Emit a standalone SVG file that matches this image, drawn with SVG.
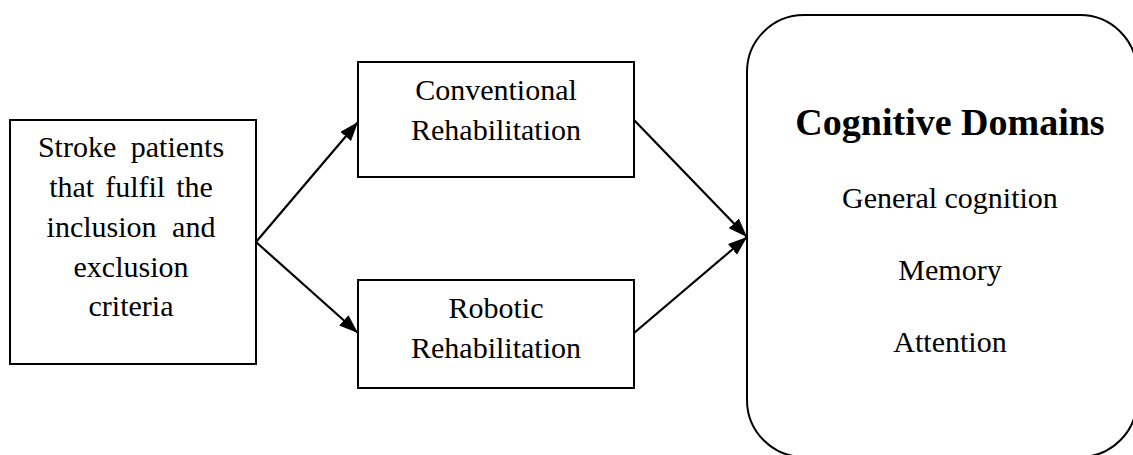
<svg xmlns="http://www.w3.org/2000/svg" width="1133" height="455" viewBox="0 0 1133 455">
<style>
.box{fill:#fff;stroke:#000;stroke-width:2}
.t{font-family:"Liberation Serif","Times New Roman",serif;font-size:30px;fill:#000;text-anchor:middle}
.b{font-weight:bold;font-size:38px}
.c{fill:none;stroke:#000;stroke-width:2.2}
</style>
<defs>
<marker id="ah" markerUnits="userSpaceOnUse" markerWidth="20" markerHeight="16" refX="19" refY="7" orient="auto">
<path d="M0,0 L19,7 L0,14 Z" fill="#000"/>
</marker>
</defs>
<g id="connectors">
<line class="c" x1="256" y1="242" x2="358" y2="122" marker-end="url(#ah)"/>
<line class="c" x1="256" y1="242" x2="358" y2="333" marker-end="url(#ah)"/>
<line class="c" x1="634" y1="120" x2="747" y2="237" marker-end="url(#ah)"/>
<line class="c" x1="634" y1="333" x2="747" y2="237" marker-end="url(#ah)"/>
</g>
<g id="stroke-patients">
<rect class="box" x="10" y="120" width="246" height="244"/>
<text class="t" x="131" y="157" word-spacing="7">Stroke patients</text>
<text class="t" x="131" y="197" word-spacing="3.5">that fulfil the</text>
<text class="t" x="131" y="237" word-spacing="8">inclusion and</text>
<text class="t" x="131" y="277">exclusion</text>
<text class="t" x="131" y="316">criteria</text>
</g>
<g id="conventional">
<rect class="box" x="358" y="62" width="276" height="115"/>
<text class="t" x="496" y="100">Conventional</text>
<text class="t" x="496" y="140">Rehabilitation</text>
</g>
<g id="robotic">
<rect class="box" x="358" y="280" width="276" height="108"/>
<text class="t" x="496" y="318">Robotic</text>
<text class="t" x="496" y="358">Rehabilitation</text>
</g>
<g id="cognitive-domains">
<rect class="box" x="747" y="15" width="390" height="442" rx="57" ry="57"/>
<text class="t b" x="950" y="135">Cognitive Domains</text>
<text class="t" x="950" y="208">General cognition</text>
<text class="t" x="950" y="280">Memory</text>
<text class="t" x="950" y="352">Attention</text>
</g>
</svg>
